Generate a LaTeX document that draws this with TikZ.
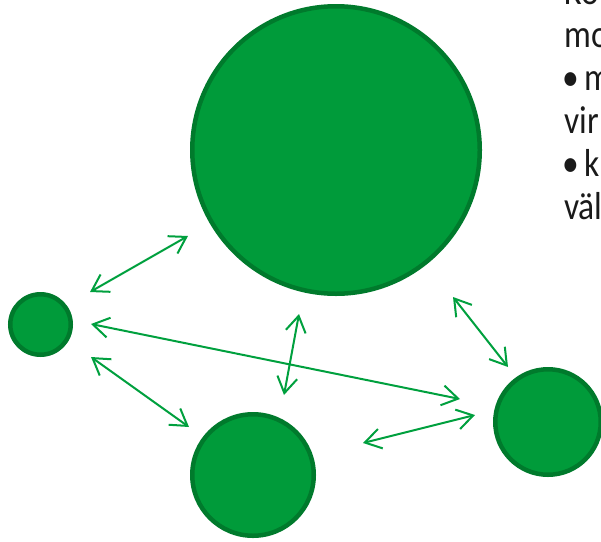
\documentclass[tikz,border=0pt]{standalone}
\usepackage{fontspec}
\setmainfont{Carlito}
\newfontfamily\slidefont[FakeStretch=0.86]{Carlito}
\usetikzlibrary{arrows.meta}
\definecolor{cfill}{RGB}{0,155,58}
\definecolor{cline}{RGB}{0,122,44}
\definecolor{carrow}{RGB}{0,160,62}
\definecolor{ctext}{RGB}{26,26,26}
\begin{document}
\begin{tikzpicture}[x=1pt,y=-1pt,
  ball/.style={circle,fill=cfill,draw=cline,line width=4.5pt,inner sep=0pt},
  link/.style={draw=carrow,line width=2pt,{Straight Barb[length=16pt,width=20pt]}-{Straight Barb[length=16pt,width=20pt]}},
  txt/.style={anchor=base west,inner sep=0pt,text=ctext,font=\slidefont\fontsize{39}{43}\selectfont}]
\useasboundingbox (0,0) rectangle (601,541);
\clip (0,0) rectangle (601,541);
\node[ball,minimum size=287.5pt] (big) at (336,150) {};
\node[ball,minimum size=60.5pt] (small) at (40.5,324.5) {};
\node[ball,minimum size=121.5pt] (bottom) at (253,475) {};
\node[ball,minimum size=105.5pt] (right) at (548,422) {};
\coordinate (a1s) at (90,292);  \coordinate (a1e) at (188,236);
\coordinate (a2s) at (91,324);  \coordinate (a2e) at (460,399);
\coordinate (a3s) at (91,357);  \coordinate (a3e) at (189,427);
\coordinate (a4s) at (299,314); \coordinate (a4e) at (284,395);
\coordinate (a5s) at (453,297); \coordinate (a5e) at (508,367);
\coordinate (a6s) at (363,443); \coordinate (a6e) at (475,415);
\draw[link] (a1s) -- (a1e);
\draw[link] (a2s) -- (a2e);
\draw[link] (a3s) -- (a3e);
\draw[link] (a4s) -- (a4e);
\draw[link] (a5s) -- (a5e);
\draw[link] (a6s) -- (a6e);
\node[txt] (t1) at (564,4) {Ko};
\node[txt] (t2) at (564,47) {mo};
\node[txt] (t3) at (562,90) {\makebox[22pt][l]{•}m};
\node[txt] (t4) at (564,133) {vir};
\node[txt] (t5) at (562,176) {\makebox[22pt][l]{•}k};
\node[txt] (t6) at (564,219) {väl};
\end{tikzpicture}
\end{document}
